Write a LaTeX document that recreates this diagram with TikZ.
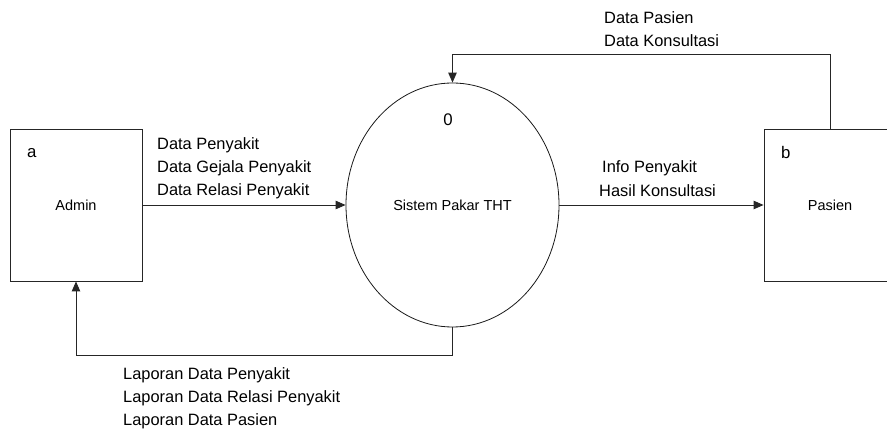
\documentclass[tikz,border=0pt]{standalone}
\usepackage{fontspec}
\setmainfont{Liberation Sans}
\usetikzlibrary{arrows.meta,shapes.geometric}
\tikzset{
  ent/.style={draw=black!85, line width=0.9pt, rectangle, minimum width=132pt, minimum height=152pt, inner sep=0pt, font=\fontsize{14.5}{17}\selectfont},
  proc/.style={draw=black!90, line width=0.8pt, ellipse, minimum width=213pt, minimum height=244pt, inner sep=0pt, font=\fontsize{14.5}{17}\selectfont},
  flow/.style={draw=black!85, line width=0.9pt, -{Triangle[length=10pt,width=8.5pt]}},
  lbl/.style={anchor=base west, inner sep=0pt, font=\fontsize{16.4}{20}\selectfont},
  idl/.style={anchor=base west, inner sep=0pt, font=\fontsize{16.8}{20}\selectfont}
}
\begin{document}
\begin{tikzpicture}[x=1pt,y=-1pt]
\clip (0,0) rectangle (887,435);
\useasboundingbox (0,0) rectangle (887,435);
\node[ent] (admin) at (76,205) {Admin};
\node[ent] (pasien) at (830,205) {Pasien};
\node[proc] (sys) at (452.5,205) {Sistem Pakar THT};
\node[idl] (ida) at (27,158) {a};
\node[idl] (idb) at (781,159) {b};
\node[idl, anchor=base] (id0) at (448,126) {0};
\coordinate (tc) at (452.5,54);
\coordinate (bc) at (452.5,355);
\draw[flow] (admin.east) -- (sys.west);
\draw[flow] (sys.east) -- (pasien.west);
\draw[flow] (pasien.north) |- (tc) -- (sys.north);
\draw[flow] (sys.south) -- (bc) -| (admin.south);
\node[lbl] (l1) at (157,150) {Data Penyakit};
\node[lbl] (l2) at (157,173) {Data Gejala Penyakit};
\node[lbl] (l3) at (157,196) {Data Relasi Penyakit};
\node[lbl] (l4) at (604,23.5) {Data Pasien};
\node[lbl] (l5) at (604,47) {Data Konsultasi};
\node[lbl] (l6) at (602,173) {Info Penyakit};
\node[lbl] (l7) at (599,197) {Hasil Konsultasi};
\node[lbl] (l8) at (123,380) {Laporan Data Penyakit};
\node[lbl] (l9) at (123,403) {Laporan Data Relasi Penyakit};
\node[lbl] (l10) at (123,426) {Laporan Data Pasien};
\end{tikzpicture}
\end{document}
